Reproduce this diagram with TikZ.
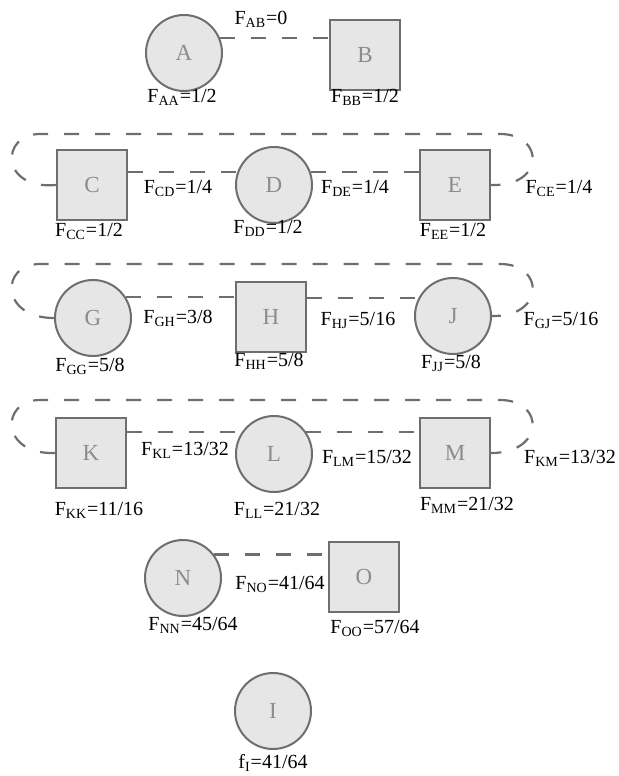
\documentclass[tikz,border=0pt]{standalone}
\usepackage{fontspec}
\setmainfont{Liberation Serif}
\usepackage{tikz}

\definecolor{nodefill}{HTML}{E6E6E6}
\definecolor{nodeline}{HTML}{6E6E6E}
\definecolor{nodetext}{HTML}{8C8C8C}

\begin{document}
\begin{tikzpicture}[x=0.5pt,y=-0.5pt,
  indiv/.style={shape=circle,minimum size=38pt,inner sep=0pt,draw=nodeline,line width=1pt,fill=nodefill,text=nodetext,font=\fontsize{11.5}{13}\selectfont},
  male/.style={shape=rectangle,minimum size=35pt,inner sep=0pt,draw=nodeline,line width=1pt,fill=nodefill,text=nodetext,font=\fontsize{11.5}{13}\selectfont},
  kin/.style={draw=nodeline,line width=1.1pt,dash pattern=on 7.5pt off 8pt},
  coef/.style={anchor=base,inner sep=0pt,font=\fontsize{10}{12}\selectfont}]
\useasboundingbox (0,0) rectangle (619,776);
% generation 1
\path (184,53) node (A) [indiv] {A};
\path (365,55) node (B) [male] {B};
\path (261,25) node (fab) [coef] {F\textsubscript{AB}=0};
\path (182,102) node (faa) [coef] {F\textsubscript{AA}=1/2};
\path (365,102) node (fbb) [coef] {F\textsubscript{BB}=1/2};
\draw [kin] (A.23) to (A.23 -| B.west);
% generation 2
\path (92,185) node (C) [male] {C};
\path (274,185) node (D) [indiv] {D};
\path (455,185) node (E) [male] {E};
\path (178,193) node (fcd) [coef] {F\textsubscript{CD}=1/4};
\path (355,193) node (fde) [coef] {F\textsubscript{DE}=1/4};
\path (559,193) node (fce) [coef] {F\textsubscript{CE}=1/4};
\path (89,236) node (fcc) [coef] {F\textsubscript{CC}=1/2};
\path (268,233) node (fdd) [coef] {F\textsubscript{DD}=1/2};
\path (453,236) node (fee) [coef] {F\textsubscript{EE}=1/2};
\draw [kin] (C.east |- D.160) to (D.160);
\draw [kin] (D.20) to (D.20 -| E.west);
\draw [kin] (C.west) .. controls (0,190) and (0,134) .. (40,134) -- (500,134) .. controls (545,134) and (545,187) .. (E.east);
% generation 3
\path (93,318) node (G) [indiv] {G};
\path (271,317) node (H) [male] {H};
\path (453,316) node (J) [indiv] {J};
\path (178,323) node (fgh) [coef] {F\textsubscript{GH}=3/8};
\path (358,325) node (fhj) [coef] {F\textsubscript{HJ}=5/16};
\path (561,325) node (fgj) [coef] {F\textsubscript{GJ}=5/16};
\path (90,371) node (fgg) [coef] {F\textsubscript{GG}=5/8};
\path (269,366) node (fhh) [coef] {F\textsubscript{HH}=5/8};
\path (451,368) node (fjj) [coef] {F\textsubscript{JJ}=5/8};
\draw [kin] (G.33) to (G.33 -| H.west);
\draw [kin] (H.east |- J.152) to (J.152);
\draw [kin] (G.west) .. controls (0,318) and (0,264) .. (40,264) -- (500,264) .. controls (545,264) and (545,317) .. (J.east);
% generation 4
\path (91,453) node (K) [male] {K};
\path (274,454) node (L) [indiv] {L};
\path (455,453) node (M) [male] {M};
\path (185,455) node (fkl) [coef] {F\textsubscript{KL}=13/32};
\path (367,463) node (flm) [coef] {F\textsubscript{LM}=15/32};
\path (570,463) node (fkm) [coef] {F\textsubscript{KM}=13/32};
\path (99,515) node (fkk) [coef] {F\textsubscript{KK}=11/16};
\path (277,515) node (fll) [coef] {F\textsubscript{LL}=21/32};
\path (467,510) node (fmm) [coef] {F\textsubscript{MM}=21/32};
\draw [kin] (K.east |- L.146) to (L.146);
\draw [kin] (L.34) to (L.34 -| M.west);
\draw [kin] (K.west) .. controls (0,455) and (0,400) .. (40,400) -- (500,400) .. controls (545,400) and (545,453) .. (M.east);
% generation 5
\path (183,578) node (N) [indiv] {N};
\path (364,577) node (O) [male] {O};
\path (280,589) node (fno) [coef] {F\textsubscript{NO}=41/64};
\path (193,630) node (fnn) [coef] {F\textsubscript{NN}=45/64};
\path (375,633) node (foo) [coef] {F\textsubscript{OO}=57/64};
\draw [kin] (N.37) to (N.37 -| O.west);
% inbred individual
\path (273,711) node (I) [indiv] {I};
\path (273,768) node (fi) [coef] {f\textsubscript{I}=41/64};
\end{tikzpicture}
\end{document}
